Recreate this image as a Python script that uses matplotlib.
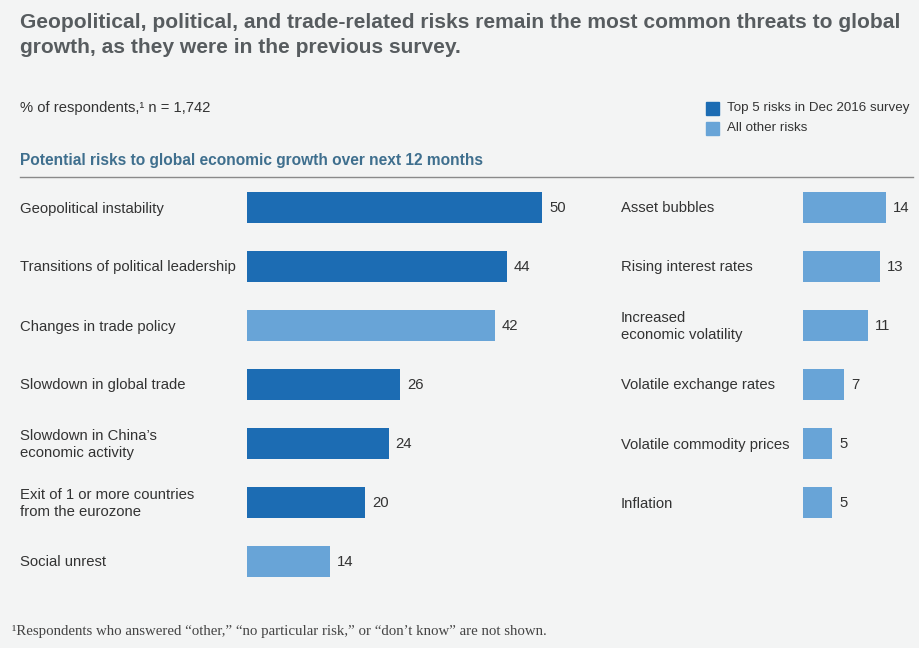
import matplotlib.pyplot as plt

# Data
left_labels = ["Geopolitical instability", "Transitions of political leadership",
               "Changes in trade policy", "Slowdown in global trade",
               "Slowdown in China’s\neconomic activity",
               "Exit of 1 or more countries\nfrom the eurozone", "Social unrest"]
left_values = [50, 44, 42, 26, 24, 20, 14]
left_top5 = [True, True, False, True, True, True, False]

right_labels = ["Asset bubbles", "Rising interest rates",
                "Increased\neconomic volatility", "Volatile exchange rates",
                "Volatile commodity prices", "Inflation"]
right_values = [14, 13, 11, 7, 5, 5]
right_top5 = [False, False, False, False, False, False]

DARK = "#1c6cb3"
LIGHT = "#68a4d7"
BG = "#f3f4f4"
TXT = "#333333"

plt.rcParams['font.family'] = ['Liberation Sans', 'DejaVu Sans']

W, H = 920, 648
fig = plt.figure(figsize=(W / 100, H / 100), dpi=100, facecolor=BG)


def fx(x):
    return x / W


def fy(y):
    return 1 - y / H


# title
fig.text(fx(20), fy(35), "Geopolitical, political, and trade-related risks remain the most common threats to global\ngrowth, as they were in the previous survey.",
         fontsize=15.1, fontweight='bold', color="#575c5f", va='center', ha='left', linespacing=1.38)

fig.text(fx(20), fy(108), "% of respondents,¹ n = 1,742", fontsize=10.6, color=TXT, va='center')

# legend
for yy, col, lab in [(108, DARK, "Top 5 risks in Dec 2016 survey"), (128, LIGHT, "All other risks")]:
    fig.patches.append(plt.Rectangle((fx(706), fy(yy + 6.5)), 13 / W, 13 / H,
                                     transform=fig.transFigure, color=col))
    fig.text(fx(727), fy(yy), lab, fontsize=9.6, color=TXT, va='center')

fig.text(fx(20), fy(160), "Potential risks to global economic growth over next 12 months",
         fontsize=11.2, color="#3f6f8e", fontweight='bold', va='center')
fig.add_artist(plt.Line2D([fx(20), fx(913)], [fy(177), fy(177)], color="#8a8a8a", lw=1))

scale = 5.9  # px per percentage point
row_top, row_h = 178, 59


def panel(x0, width, labels, values, top5, label_x):
    ax = fig.add_axes([fx(x0), fy(row_top + 7 * row_h), width / W, 7 * row_h / H])
    ax.set_xlim(0, width / scale)
    ax.set_ylim(6.5, -0.5)
    ax.axis('off')
    pos = list(range(len(values)))
    cols = [DARK if t else LIGHT for t in top5]
    ax.barh(pos, values, height=0.51, color=cols)
    for p, v, lab in zip(pos, values, labels):
        ax.text(v + 7 / scale, p, str(v), fontsize=10.7, color=TXT, va='center', ha='left')
        fig.text(fx(label_x), fy(row_top + row_h * (p + 0.5) + 1), lab, fontsize=10.7, color=TXT,
                 va='center', ha='left', linespacing=1.3)


panel(247, 340, left_labels, left_values, left_top5, 20)
panel(803, 115, right_labels, right_values, right_top5, 621)

fig.text(fx(12), fy(631), "¹Respondents who answered “other,” “no particular risk,” or “don’t know” are not shown.",
         fontsize=10.7, color="#444444", family='Liberation Serif', va='center')

fig.savefig("out.png", dpi=100, facecolor=BG)
